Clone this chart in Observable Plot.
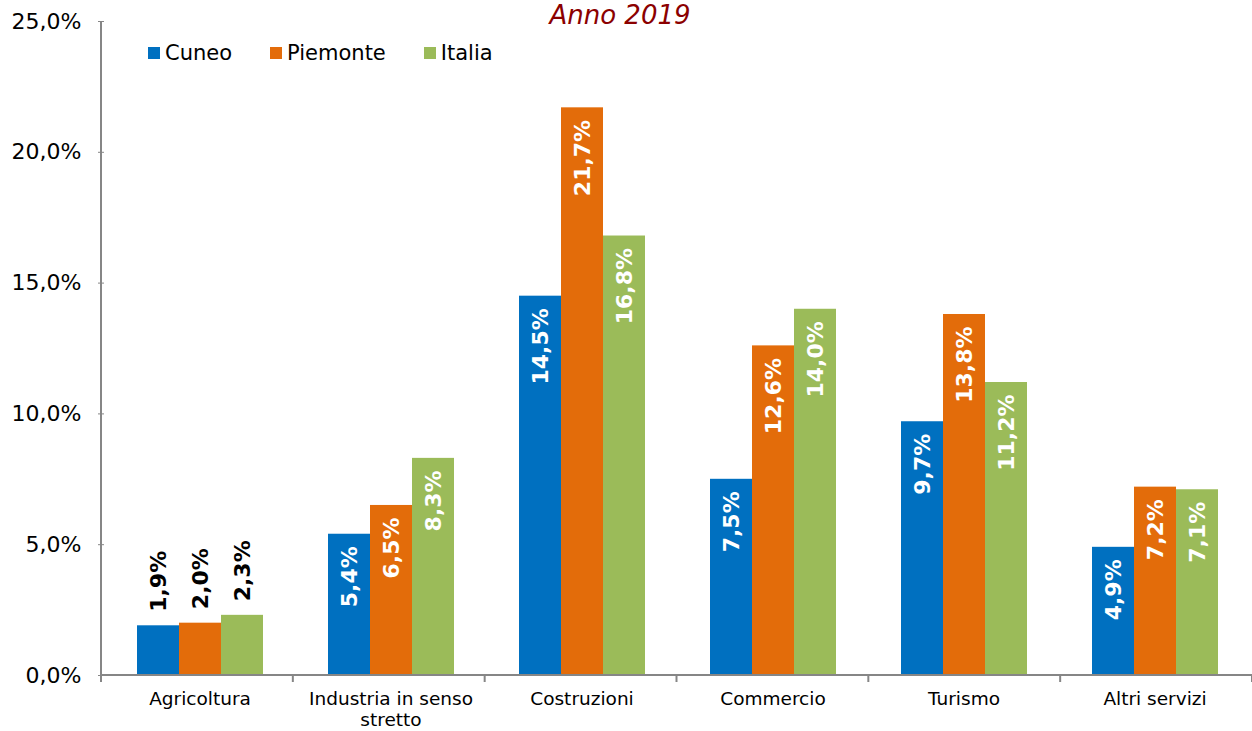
<!DOCTYPE html>
<html>
<head>
<meta charset="utf-8">
<script src="https://cdn.jsdelivr.net/npm/d3@7"></script>
<script src="https://cdn.jsdelivr.net/npm/@observablehq/plot@0.6"></script>
<style>
  body { margin: 0; background: #fff; font-family: "DejaVu Sans", Verdana, sans-serif; }
  #wrap { position: relative; width: 1252px; height: 731px; }
  #title { position: absolute; top: 0; left: 0; width: 1240px; text-align: center; font-style: italic; font-size: 26px; line-height: 30px; color: #8B0000; }
  #legend { position: absolute; top: 40px; left: 148px; display: flex; align-items: center; font-size: 21px; line-height: 26px; color: #000; }
  #legend .item { display: flex; align-items: center; margin-right: 38px; }
  #legend .sw { width: 12px; height: 12px; margin-right: 5px; }
</style>
</head>
<body>
<div id="wrap">
  <div id="chart"></div>
  <div id="title">Anno 2019</div>
  <div id="legend"></div>
</div>
<script>
const categories = ["Agricoltura", "Industria in senso stretto", "Costruzioni", "Commercio", "Turismo", "Altri servizi"];
const categoryLabels = ["Agricoltura", "Industria in senso\nstretto", "Costruzioni", "Commercio", "Turismo", "Altri servizi"];
const series = ["Cuneo", "Piemonte", "Italia"];
const colors = ["#0070C0", "#E36C0A", "#9BBB59"];
const cuneo    = [1.9, 5.4, 14.5, 7.5, 9.7, 4.9];
const piemonte = [2.0, 6.5, 21.7, 12.6, 13.8, 7.2];
const italia   = [2.3, 8.3, 16.8, 14.0, 11.2, 7.1];
const yTicks = [0, 5, 10, 15, 20, 25];

const seriesValues = [cuneo, piemonte, italia];
const data = [];
categories.forEach((c, i) => series.forEach((s, j) => data.push({cat: c, series: s, value: seriesValues[j][i]})));

const fmt = v => v.toFixed(1).replace(".", ",") + "%";
const labelMap = new Map(categories.map((c, i) => [c, categoryLabels[i]]));
const outside = d => d.value < 3;

const W = 1252, H = 731;
const plot = Plot.plot({
  width: W, height: H,
  marginLeft: 101, marginRight: 0, marginTop: 21, marginBottom: 56,
  style: {fontFamily: "DejaVu Sans, Verdana, sans-serif", background: "transparent"},
  fx: {domain: categories, padding: 0, label: null},
  x: {domain: series, paddingInner: 0, paddingOuter: 0.75, axis: null},
  y: {domain: [0, 25], label: null},
  color: {domain: series, range: colors},
  marks: [
    Plot.axisY({ticks: yTicks, tickFormat: fmt, tickSize: 6, tickPadding: 17, fontSize: 22, stroke: "#868686", fill: "#000", label: null}),
    Plot.axisFx({anchor: "bottom", tickSize: 0, tickPadding: 14, fontSize: 18.5, lineHeight: 1.15, fill: "#000", tickFormat: d => labelMap.get(d), label: null, lineAnchor: "top"}),
    Plot.barY(data, {fx: "cat", x: "series", y: "value", fill: "series"}),
    Plot.text(data.filter(d => !outside(d)), {fx: "cat", x: "series", y: "value", text: d => fmt(d.value), rotate: -90, textAnchor: "end", dy: 12, fill: "#fff", fontWeight: "bold", fontSize: 22}),
    Plot.text(data.filter(outside), {fx: "cat", x: "series", y: "value", text: d => fmt(d.value), rotate: -90, textAnchor: "start", dy: -14, fill: "#000", fontWeight: "bold", fontSize: 22})
  ]
});
document.getElementById("chart").appendChild(plot);

// axis lines and category boundary ticks
const svg = d3.select(plot);
const ys = plot.scale("y");
const fxs = plot.scale("fx");
const [r0, r1] = fxs.range;
const y0 = ys.range[0], yTop = ys.range[1];
const g = svg.append("g").attr("stroke", "#868686").attr("stroke-width", 2);
g.append("line").attr("x1", r0).attr("x2", r0).attr("y1", yTop).attr("y2", y0);
g.append("line").attr("x1", r0).attr("x2", r1).attr("y1", y0).attr("y2", y0);
const step = (r1 - r0) / categories.length;
for (let i = 0; i <= categories.length; i++) {
  const x = r0 + i * step;
  g.append("line").attr("x1", x).attr("x2", x).attr("y1", y0).attr("y2", y0 + 7);
}

// legend
const leg = document.getElementById("legend");
series.forEach((s, i) => {
  const item = document.createElement("div");
  item.className = "item";
  item.innerHTML = `<div class="sw" style="background:${colors[i]}"></div><span>${s}</span>`;
  leg.appendChild(item);
});
</script>
</body>
</html>
